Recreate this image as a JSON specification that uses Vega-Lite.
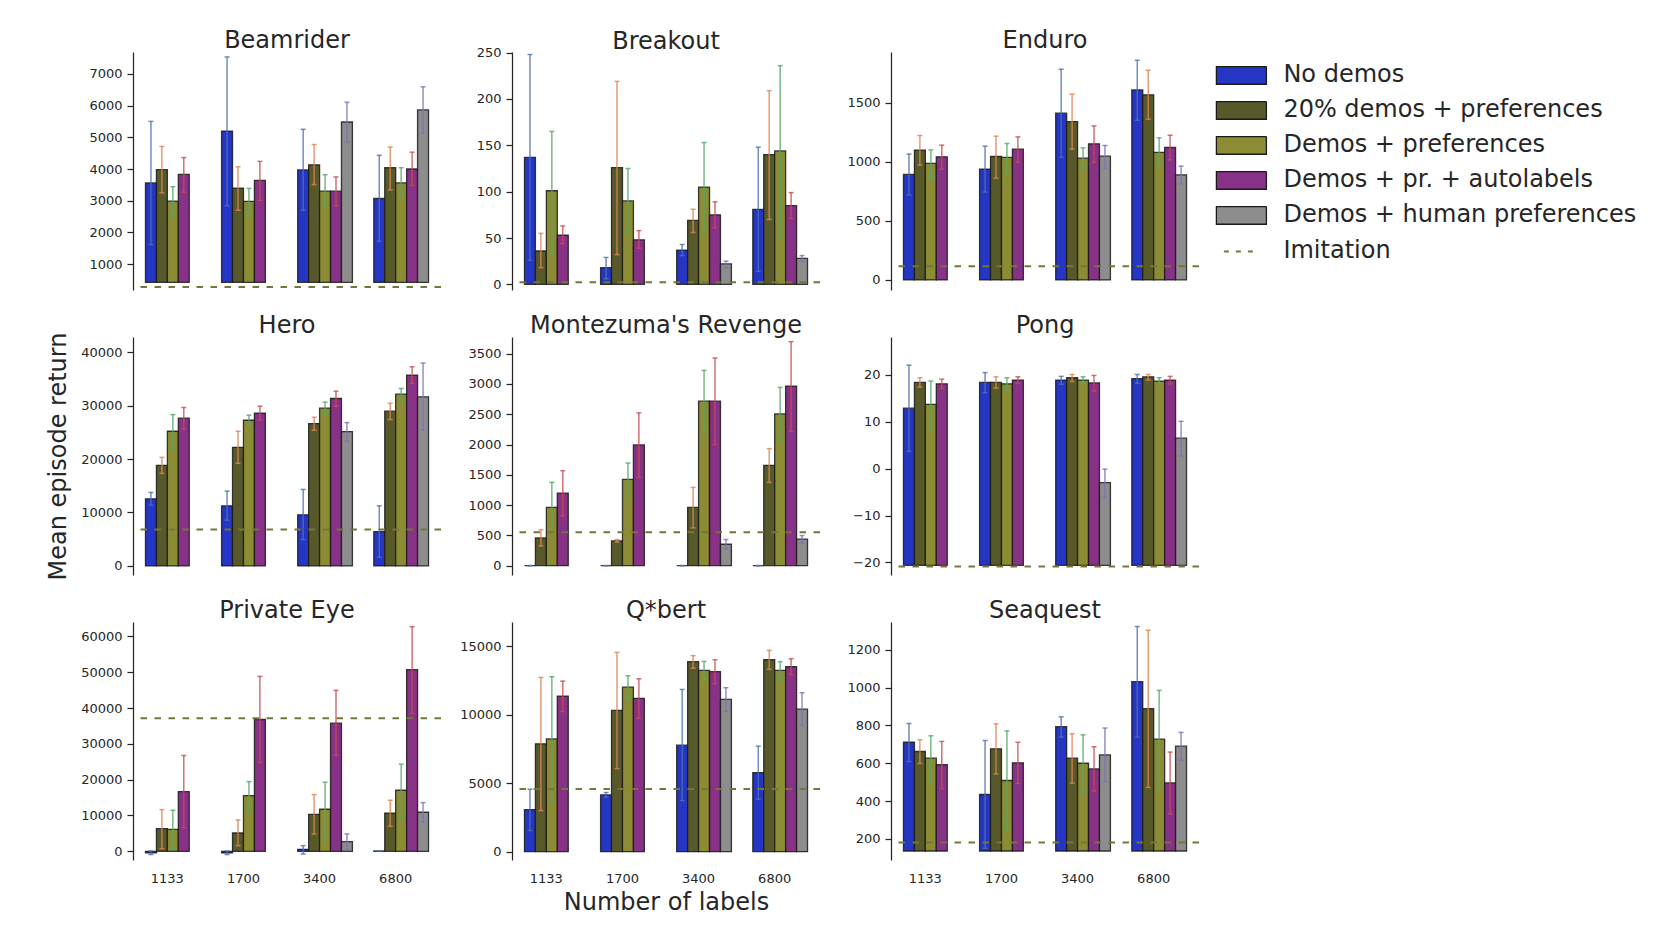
{
  "$schema": "https://vega.github.io/schema/vega-lite/v6.json",
  "padding": {"left": 46, "top": 29, "right": 5, "bottom": 5},
  "config": {
    "font": "DejaVu Sans",
    "view": {"stroke": null},
    "title": {"font": "DejaVu Sans", "fontSize": 24, "fontWeight": "normal", "color": "#262626", "baseline": "bottom", "offset": -1, "anchor": "middle", "frame": "group"},
    "axis": {"labelFont": "DejaVu Sans", "labelFontSize": 13, "labelColor": "#262626", "domainColor": "#262626", "domainWidth": 1.25, "tickColor": "#262626", "tickWidth": 1.25, "tickSize": 6, "labelPadding": 5, "grid": false, "titleFont": "DejaVu Sans", "titleFontSize": 24, "titleFontWeight": "normal", "titleColor": "#262626", "labelFlush": false, "labelOverlap": false}
  },
  "datasets": {
    "scores": [
      {"game": "Beamrider", "labels": "1133", "method": "No demos", "value": 3560, "low": 1620, "high": 5500},
      {"game": "Beamrider", "labels": "1133", "method": "20% demos + preferences", "value": 3980, "low": 3250, "high": 4710},
      {"game": "Beamrider", "labels": "1133", "method": "Demos + preferences", "value": 2990, "low": 2570, "high": 3440},
      {"game": "Beamrider", "labels": "1133", "method": "Demos + pr. + autolabels", "value": 3830, "low": 3270, "high": 4360},
      {"game": "Beamrider", "labels": "1700", "method": "No demos", "value": 5190, "low": 2840, "high": 7530},
      {"game": "Beamrider", "labels": "1700", "method": "20% demos + preferences", "value": 3400, "low": 2700, "high": 4070},
      {"game": "Beamrider", "labels": "1700", "method": "Demos + preferences", "value": 2980, "low": 2560, "high": 3390},
      {"game": "Beamrider", "labels": "1700", "method": "Demos + pr. + autolabels", "value": 3640, "low": 3010, "high": 4240},
      {"game": "Beamrider", "labels": "3400", "method": "No demos", "value": 3970, "low": 2700, "high": 5250},
      {"game": "Beamrider", "labels": "3400", "method": "20% demos + preferences", "value": 4130, "low": 3510, "high": 4770},
      {"game": "Beamrider", "labels": "3400", "method": "Demos + preferences", "value": 3300, "low": 2800, "high": 3820},
      {"game": "Beamrider", "labels": "3400", "method": "Demos + pr. + autolabels", "value": 3300, "low": 2840, "high": 3750},
      {"game": "Beamrider", "labels": "3400", "method": "Demos + human preferences", "value": 5480, "low": 4850, "high": 6100},
      {"game": "Beamrider", "labels": "6800", "method": "No demos", "value": 3070, "low": 1720, "high": 4430},
      {"game": "Beamrider", "labels": "6800", "method": "20% demos + preferences", "value": 4040, "low": 3340, "high": 4690},
      {"game": "Beamrider", "labels": "6800", "method": "Demos + preferences", "value": 3560, "low": 3120, "high": 4040},
      {"game": "Beamrider", "labels": "6800", "method": "Demos + pr. + autolabels", "value": 4000, "low": 3480, "high": 4530},
      {"game": "Beamrider", "labels": "6800", "method": "Demos + human preferences", "value": 5860, "low": 5130, "high": 6590},

      {"game": "Breakout", "labels": "1133", "method": "No demos", "value": 137, "low": 26, "high": 248},
      {"game": "Breakout", "labels": "1133", "method": "20% demos + preferences", "value": 36, "low": 18, "high": 55},
      {"game": "Breakout", "labels": "1133", "method": "Demos + preferences", "value": 101, "low": 35, "high": 165},
      {"game": "Breakout", "labels": "1133", "method": "Demos + pr. + autolabels", "value": 53, "low": 44, "high": 63},
      {"game": "Breakout", "labels": "1700", "method": "No demos", "value": 18, "low": 6, "high": 29},
      {"game": "Breakout", "labels": "1700", "method": "20% demos + preferences", "value": 126, "low": 32, "high": 219},
      {"game": "Breakout", "labels": "1700", "method": "Demos + preferences", "value": 90, "low": 56, "high": 125},
      {"game": "Breakout", "labels": "1700", "method": "Demos + pr. + autolabels", "value": 48, "low": 39, "high": 58},
      {"game": "Breakout", "labels": "3400", "method": "No demos", "value": 37, "low": 31, "high": 43},
      {"game": "Breakout", "labels": "3400", "method": "20% demos + preferences", "value": 69, "low": 56, "high": 81},
      {"game": "Breakout", "labels": "3400", "method": "Demos + preferences", "value": 105, "low": 57, "high": 153},
      {"game": "Breakout", "labels": "3400", "method": "Demos + pr. + autolabels", "value": 75, "low": 61, "high": 89},
      {"game": "Breakout", "labels": "3400", "method": "Demos + human preferences", "value": 22, "low": 18, "high": 25},
      {"game": "Breakout", "labels": "6800", "method": "No demos", "value": 81, "low": 14, "high": 148},
      {"game": "Breakout", "labels": "6800", "method": "20% demos + preferences", "value": 140, "low": 70, "high": 209},
      {"game": "Breakout", "labels": "6800", "method": "Demos + preferences", "value": 144, "low": 52, "high": 236},
      {"game": "Breakout", "labels": "6800", "method": "Demos + pr. + autolabels", "value": 85, "low": 71, "high": 99},
      {"game": "Breakout", "labels": "6800", "method": "Demos + human preferences", "value": 28, "low": 25, "high": 31},

      {"game": "Enduro", "labels": "1133", "method": "No demos", "value": 894, "low": 719, "high": 1066},
      {"game": "Enduro", "labels": "1133", "method": "20% demos + preferences", "value": 1100, "low": 973, "high": 1224},
      {"game": "Enduro", "labels": "1133", "method": "Demos + preferences", "value": 987, "low": 860, "high": 1102},
      {"game": "Enduro", "labels": "1133", "method": "Demos + pr. + autolabels", "value": 1043, "low": 939, "high": 1142},
      {"game": "Enduro", "labels": "1700", "method": "No demos", "value": 939, "low": 744, "high": 1133},
      {"game": "Enduro", "labels": "1700", "method": "20% demos + preferences", "value": 1046, "low": 863, "high": 1218},
      {"game": "Enduro", "labels": "1700", "method": "Demos + preferences", "value": 1038, "low": 911, "high": 1156},
      {"game": "Enduro", "labels": "1700", "method": "Demos + pr. + autolabels", "value": 1108, "low": 998, "high": 1212},
      {"game": "Enduro", "labels": "3400", "method": "No demos", "value": 1413, "low": 1040, "high": 1785},
      {"game": "Enduro", "labels": "3400", "method": "20% demos + preferences", "value": 1342, "low": 1108, "high": 1573},
      {"game": "Enduro", "labels": "3400", "method": "Demos + preferences", "value": 1032, "low": 945, "high": 1119},
      {"game": "Enduro", "labels": "3400", "method": "Demos + pr. + autolabels", "value": 1153, "low": 998, "high": 1305},
      {"game": "Enduro", "labels": "3400", "method": "Demos + human preferences", "value": 1049, "low": 947, "high": 1139},
      {"game": "Enduro", "labels": "6800", "method": "No demos", "value": 1610, "low": 1353, "high": 1861},
      {"game": "Enduro", "labels": "6800", "method": "20% demos + preferences", "value": 1568, "low": 1362, "high": 1776},
      {"game": "Enduro", "labels": "6800", "method": "Demos + preferences", "value": 1080, "low": 956, "high": 1204},
      {"game": "Enduro", "labels": "6800", "method": "Demos + pr. + autolabels", "value": 1122, "low": 1018, "high": 1226},
      {"game": "Enduro", "labels": "6800", "method": "Demos + human preferences", "value": 891, "low": 815, "high": 964},

      {"game": "Hero", "labels": "1133", "method": "No demos", "value": 12560, "low": 11380, "high": 13750},
      {"game": "Hero", "labels": "1133", "method": "20% demos + preferences", "value": 18810, "low": 17310, "high": 20310},
      {"game": "Hero", "labels": "1133", "method": "Demos + preferences", "value": 25190, "low": 22060, "high": 28310},
      {"game": "Hero", "labels": "1133", "method": "Demos + pr. + autolabels", "value": 27630, "low": 25560, "high": 29630},
      {"game": "Hero", "labels": "1700", "method": "No demos", "value": 11250, "low": 8560, "high": 14000},
      {"game": "Hero", "labels": "1700", "method": "20% demos + preferences", "value": 22190, "low": 19190, "high": 25190},
      {"game": "Hero", "labels": "1700", "method": "Demos + preferences", "value": 27250, "low": 26310, "high": 28190},
      {"game": "Hero", "labels": "1700", "method": "Demos + pr. + autolabels", "value": 28560, "low": 27250, "high": 29880},
      {"game": "Hero", "labels": "3400", "method": "No demos", "value": 9560, "low": 4940, "high": 14310},
      {"game": "Hero", "labels": "3400", "method": "20% demos + preferences", "value": 26630, "low": 25380, "high": 27810},
      {"game": "Hero", "labels": "3400", "method": "Demos + preferences", "value": 29500, "low": 28310, "high": 30630},
      {"game": "Hero", "labels": "3400", "method": "Demos + pr. + autolabels", "value": 31310, "low": 29880, "high": 32690},
      {"game": "Hero", "labels": "3400", "method": "Demos + human preferences", "value": 25130, "low": 23310, "high": 26810},
      {"game": "Hero", "labels": "6800", "method": "No demos", "value": 6440, "low": 1630, "high": 11250},
      {"game": "Hero", "labels": "6800", "method": "20% demos + preferences", "value": 28940, "low": 27380, "high": 30440},
      {"game": "Hero", "labels": "6800", "method": "Demos + preferences", "value": 32130, "low": 31060, "high": 33190},
      {"game": "Hero", "labels": "6800", "method": "Demos + pr. + autolabels", "value": 35690, "low": 34130, "high": 37250},
      {"game": "Hero", "labels": "6800", "method": "Demos + human preferences", "value": 31630, "low": 25380, "high": 37940},

      {"game": "Montezuma's Revenge", "labels": "1133", "method": "No demos", "value": 0, "low": 0, "high": 0},
      {"game": "Montezuma's Revenge", "labels": "1133", "method": "20% demos + preferences", "value": 458, "low": 326, "high": 591},
      {"game": "Montezuma's Revenge", "labels": "1133", "method": "Demos + preferences", "value": 961, "low": 547, "high": 1375},
      {"game": "Montezuma's Revenge", "labels": "1133", "method": "Demos + pr. + autolabels", "value": 1198, "low": 823, "high": 1568},
      {"game": "Montezuma's Revenge", "labels": "1700", "method": "No demos", "value": 0, "low": 0, "high": 0},
      {"game": "Montezuma's Revenge", "labels": "1700", "method": "20% demos + preferences", "value": 410, "low": 390, "high": 430},
      {"game": "Montezuma's Revenge", "labels": "1700", "method": "Demos + preferences", "value": 1424, "low": 1154, "high": 1695},
      {"game": "Montezuma's Revenge", "labels": "1700", "method": "Demos + pr. + autolabels", "value": 1993, "low": 1457, "high": 2523},
      {"game": "Montezuma's Revenge", "labels": "3400", "method": "No demos", "value": 0, "low": 0, "high": 0},
      {"game": "Montezuma's Revenge", "labels": "3400", "method": "20% demos + preferences", "value": 961, "low": 624, "high": 1292},
      {"game": "Montezuma's Revenge", "labels": "3400", "method": "Demos + preferences", "value": 2716, "low": 2208, "high": 3224},
      {"game": "Montezuma's Revenge", "labels": "3400", "method": "Demos + pr. + autolabels", "value": 2716, "low": 1998, "high": 3428},
      {"game": "Montezuma's Revenge", "labels": "3400", "method": "Demos + human preferences", "value": 353, "low": 276, "high": 431},
      {"game": "Montezuma's Revenge", "labels": "6800", "method": "No demos", "value": 0, "low": 0, "high": 0},
      {"game": "Montezuma's Revenge", "labels": "6800", "method": "20% demos + preferences", "value": 1656, "low": 1375, "high": 1932},
      {"game": "Montezuma's Revenge", "labels": "6800", "method": "Demos + preferences", "value": 2506, "low": 2076, "high": 2943},
      {"game": "Montezuma's Revenge", "labels": "6800", "method": "Demos + pr. + autolabels", "value": 2965, "low": 2219, "high": 3699},
      {"game": "Montezuma's Revenge", "labels": "6800", "method": "Demos + human preferences", "value": 436, "low": 370, "high": 497},

      {"game": "Pong", "labels": "1133", "method": "No demos", "value": 12.9, "low": 3.7, "high": 22.1},
      {"game": "Pong", "labels": "1133", "method": "20% demos + preferences", "value": 18.4, "low": 17.4, "high": 19.4},
      {"game": "Pong", "labels": "1133", "method": "Demos + preferences", "value": 13.7, "low": 8.7, "high": 18.7},
      {"game": "Pong", "labels": "1133", "method": "Demos + pr. + autolabels", "value": 18.1, "low": 17.1, "high": 19.1},
      {"game": "Pong", "labels": "1700", "method": "No demos", "value": 18.4, "low": 16.2, "high": 20.5},
      {"game": "Pong", "labels": "1700", "method": "20% demos + preferences", "value": 18.4, "low": 17.2, "high": 19.6},
      {"game": "Pong", "labels": "1700", "method": "Demos + preferences", "value": 18.1, "low": 16.7, "high": 19.4},
      {"game": "Pong", "labels": "1700", "method": "Demos + pr. + autolabels", "value": 18.9, "low": 18.2, "high": 19.6},
      {"game": "Pong", "labels": "3400", "method": "No demos", "value": 18.9, "low": 18.0, "high": 19.7},
      {"game": "Pong", "labels": "3400", "method": "20% demos + preferences", "value": 19.4, "low": 18.6, "high": 20.1},
      {"game": "Pong", "labels": "3400", "method": "Demos + preferences", "value": 18.9, "low": 18.3, "high": 19.6},
      {"game": "Pong", "labels": "3400", "method": "Demos + pr. + autolabels", "value": 18.3, "low": 16.6, "high": 19.9},
      {"game": "Pong", "labels": "3400", "method": "Demos + human preferences", "value": -3.0, "low": -6.2, "high": -0.1},
      {"game": "Pong", "labels": "6800", "method": "No demos", "value": 19.2, "low": 18.2, "high": 20.1},
      {"game": "Pong", "labels": "6800", "method": "20% demos + preferences", "value": 19.6, "low": 18.9, "high": 20.1},
      {"game": "Pong", "labels": "6800", "method": "Demos + preferences", "value": 18.7, "low": 18.2, "high": 19.4},
      {"game": "Pong", "labels": "6800", "method": "Demos + pr. + autolabels", "value": 18.9, "low": 18.1, "high": 19.7},
      {"game": "Pong", "labels": "6800", "method": "Demos + human preferences", "value": 6.5, "low": 2.7, "high": 10.1},

      {"game": "Private Eye", "labels": "1133", "method": "No demos", "value": -400, "low": -900, "high": 100},
      {"game": "Private Eye", "labels": "1133", "method": "20% demos + preferences", "value": 6340, "low": 750, "high": 11650},
      {"game": "Private Eye", "labels": "1133", "method": "Demos + preferences", "value": 6150, "low": 750, "high": 11460},
      {"game": "Private Eye", "labels": "1133", "method": "Demos + pr. + autolabels", "value": 16680, "low": 6620, "high": 26740},
      {"game": "Private Eye", "labels": "1700", "method": "No demos", "value": -400, "low": -900, "high": 100},
      {"game": "Private Eye", "labels": "1700", "method": "20% demos + preferences", "value": 5120, "low": 1580, "high": 8760},
      {"game": "Private Eye", "labels": "1700", "method": "Demos + preferences", "value": 15560, "low": 11370, "high": 19470},
      {"game": "Private Eye", "labels": "1700", "method": "Demos + pr. + autolabels", "value": 36800, "low": 24780, "high": 48820},
      {"game": "Private Eye", "labels": "3400", "method": "No demos", "value": 560, "low": -750, "high": 1580},
      {"game": "Private Eye", "labels": "3400", "method": "20% demos + preferences", "value": 10340, "low": 4850, "high": 15840},
      {"game": "Private Eye", "labels": "3400", "method": "Demos + preferences", "value": 11740, "low": 4190, "high": 19290},
      {"game": "Private Eye", "labels": "3400", "method": "Demos + pr. + autolabels", "value": 35780, "low": 26830, "high": 44910},
      {"game": "Private Eye", "labels": "3400", "method": "Demos + human preferences", "value": 2700, "low": 560, "high": 4850},
      {"game": "Private Eye", "labels": "6800", "method": "No demos", "value": 90, "low": 90, "high": 90},
      {"game": "Private Eye", "labels": "6800", "method": "20% demos + preferences", "value": 10620, "low": 6990, "high": 14260},
      {"game": "Private Eye", "labels": "6800", "method": "Demos + preferences", "value": 17050, "low": 9600, "high": 24320},
      {"game": "Private Eye", "labels": "6800", "method": "Demos + pr. + autolabels", "value": 50690, "low": 38480, "high": 62700},
      {"game": "Private Eye", "labels": "6800", "method": "Demos + human preferences", "value": 10900, "low": 8110, "high": 13600},

      {"game": "Q*bert", "labels": "1133", "method": "No demos", "value": 3070, "low": 1540, "high": 4560},
      {"game": "Q*bert", "labels": "1133", "method": "20% demos + preferences", "value": 7880, "low": 3000, "high": 12730},
      {"game": "Q*bert", "labels": "1133", "method": "Demos + preferences", "value": 8240, "low": 3730, "high": 12780},
      {"game": "Q*bert", "labels": "1133", "method": "Demos + pr. + autolabels", "value": 11370, "low": 10240, "high": 12460},
      {"game": "Q*bert", "labels": "1700", "method": "No demos", "value": 4150, "low": 4000, "high": 4320},
      {"game": "Q*bert", "labels": "1700", "method": "20% demos + preferences", "value": 10320, "low": 6070, "high": 14560},
      {"game": "Q*bert", "labels": "1700", "method": "Demos + preferences", "value": 12020, "low": 11200, "high": 12850},
      {"game": "Q*bert", "labels": "1700", "method": "Demos + pr. + autolabels", "value": 11200, "low": 9730, "high": 12630},
      {"game": "Q*bert", "labels": "3400", "method": "No demos", "value": 7780, "low": 3730, "high": 11850},
      {"game": "Q*bert", "labels": "3400", "method": "20% demos + preferences", "value": 13880, "low": 13410, "high": 14320},
      {"game": "Q*bert", "labels": "3400", "method": "Demos + preferences", "value": 13240, "low": 12560, "high": 13900},
      {"game": "Q*bert", "labels": "3400", "method": "Demos + pr. + autolabels", "value": 13150, "low": 12270, "high": 14020},
      {"game": "Q*bert", "labels": "3400", "method": "Demos + human preferences", "value": 11120, "low": 10240, "high": 11980},
      {"game": "Q*bert", "labels": "6800", "method": "No demos", "value": 5780, "low": 3830, "high": 7710},
      {"game": "Q*bert", "labels": "6800", "method": "20% demos + preferences", "value": 14020, "low": 13320, "high": 14710},
      {"game": "Q*bert", "labels": "6800", "method": "Demos + preferences", "value": 13240, "low": 12630, "high": 13880},
      {"game": "Q*bert", "labels": "6800", "method": "Demos + pr. + autolabels", "value": 13510, "low": 12930, "high": 14100},
      {"game": "Q*bert", "labels": "6800", "method": "Demos + human preferences", "value": 10410, "low": 9220, "high": 11610},

      {"game": "Seaquest", "labels": "1133", "method": "No demos", "value": 711, "low": 609, "high": 810},
      {"game": "Seaquest", "labels": "1133", "method": "20% demos + preferences", "value": 662, "low": 599, "high": 724},
      {"game": "Seaquest", "labels": "1133", "method": "Demos + preferences", "value": 627, "low": 509, "high": 745},
      {"game": "Seaquest", "labels": "1133", "method": "Demos + pr. + autolabels", "value": 592, "low": 466, "high": 715},
      {"game": "Seaquest", "labels": "1700", "method": "No demos", "value": 435, "low": 151, "high": 720},
      {"game": "Seaquest", "labels": "1700", "method": "20% demos + preferences", "value": 676, "low": 544, "high": 808},
      {"game": "Seaquest", "labels": "1700", "method": "Demos + preferences", "value": 509, "low": 244, "high": 771},
      {"game": "Seaquest", "labels": "1700", "method": "Demos + pr. + autolabels", "value": 602, "low": 493, "high": 711},
      {"game": "Seaquest", "labels": "3400", "method": "No demos", "value": 793, "low": 738, "high": 845},
      {"game": "Seaquest", "labels": "3400", "method": "20% demos + preferences", "value": 627, "low": 495, "high": 756},
      {"game": "Seaquest", "labels": "3400", "method": "Demos + preferences", "value": 600, "low": 447, "high": 750},
      {"game": "Seaquest", "labels": "3400", "method": "Demos + pr. + autolabels", "value": 570, "low": 454, "high": 687},
      {"game": "Seaquest", "labels": "3400", "method": "Demos + human preferences", "value": 644, "low": 502, "high": 786},
      {"game": "Seaquest", "labels": "6800", "method": "No demos", "value": 1031, "low": 738, "high": 1322},
      {"game": "Seaquest", "labels": "6800", "method": "20% demos + preferences", "value": 888, "low": 472, "high": 1302},
      {"game": "Seaquest", "labels": "6800", "method": "Demos + preferences", "value": 727, "low": 470, "high": 985},
      {"game": "Seaquest", "labels": "6800", "method": "Demos + pr. + autolabels", "value": 496, "low": 332, "high": 659},
      {"game": "Seaquest", "labels": "6800", "method": "Demos + human preferences", "value": 690, "low": 616, "high": 763}
    ],
    "imitation": [
      {"game": "Beamrider", "value": 283},
      {"game": "Breakout", "value": 2.2},
      {"game": "Enduro", "value": 116},
      {"game": "Hero", "value": 6810},
      {"game": "Montezuma's Revenge", "value": 552},
      {"game": "Pong", "value": -20.86},
      {"game": "Private Eye", "value": 37170},
      {"game": "Q*bert", "value": 4585},
      {"game": "Seaquest", "value": 182}
    ]
  },
  "columns": 3,
  "bounds": "flush",
  "align": "all",
  "spacing": {"row": 47, "column": 71},
  "resolve": {"scale": {"fill": "shared", "color": "shared"}},
  "concat": [
    {
      "title": "Beamrider", "width": 308, "height": 238,
      "layer": [
        {
          "data": {"name": "scores"},
          "transform": [{"filter": {"field": "game", "equal": "Beamrider"}}],
          "encoding": {
            "x": {"field": "labels", "type": "nominal", "scale": {"paddingInner": 0.281, "paddingOuter": 0.164}, "axis": null},
            "xOffset": {"field": "method", "type": "nominal", "scale": {"domain": ["No demos", "20% demos + preferences", "Demos + preferences", "Demos + pr. + autolabels", "Demos + human preferences"], "paddingInner": 0, "paddingOuter": 0}}
          },
          "layer": [
            {"mark": {"type": "bar", "stroke": "#1a1a1a", "strokeWidth": 1.3, "strokeOpacity": 0.85},
             "encoding": {
               "y": {"field": "value", "type": "quantitative", "scale": {"domain": [188, 7686], "nice": false, "zero": false}, "axis": {"values": [1000, 2000, 3000, 4000, 5000, 6000, 7000], "tickCount": 20, "format": "d", "title": null, "labelOverlap": false}},
               "y2": {"datum": 431},
               "fill": {"field": "method", "type": "nominal",
                 "scale": {"domain": ["No demos", "20% demos + preferences", "Demos + preferences", "Demos + pr. + autolabels", "Demos + human preferences", "Imitation"], "range": ["#2535c4", "#58592a", "#8c8c34", "#873187", "#8d8d8d", "transparent"]},
                 "legend": {"title": null, "orient": "right", "offset": 18, "padding": 11.4, "labelFont": "DejaVu Sans", "labelFontSize": 24, "labelColor": "#262626", "labelLimit": 600, "labelOffset": 30, "rowPadding": 11, "symbolSize": 2500, "symbolType": "M-1,-0.354H1V0.354H-1Z", "symbolStrokeColor": "#1a1a1a", "symbolStrokeWidth": 1.3,
                   "encode": {"symbols": {"update": {
                     "shape": {"signal": "datum.value === 'Imitation' ? 'M-1,-0.354M1,0.354M-0.7,0H0.7' : 'M-1,-0.354H1V0.354H-1Z'"},
                     "stroke": {"signal": "datum.value === 'Imitation' ? '#76763a' : '#1a1a1a'"},
                     "strokeWidth": {"signal": "datum.value === 'Imitation' ? 2 : 1.3"},
                     "strokeDash": {"signal": "datum.value === 'Imitation' ? [5, 7] : [1, 0]"}
                   }}}}}
             }},
            {"mark": {"type": "rule", "strokeWidth": 1.5, "opacity": 0.8},
             "encoding": {"y": {"field": "low", "type": "quantitative", "title": null}, "y2": {"field": "high"},
               "color": {"field": "method", "type": "nominal", "scale": {"domain": ["No demos", "20% demos + preferences", "Demos + preferences", "Demos + pr. + autolabels", "Demos + human preferences"], "range": ["#4c72b0", "#dd8452", "#55a868", "#c44e52", "#8172b3"]}, "legend": null}}},
            {"mark": {"type": "tick", "orient": "horizontal", "size": 5, "thickness": 1.5, "opacity": 0.8},
             "encoding": {"y": {"field": "low", "type": "quantitative", "title": null}, "color": {"field": "method", "type": "nominal", "legend": null}}},
            {"mark": {"type": "tick", "orient": "horizontal", "size": 5, "thickness": 1.5, "opacity": 0.8},
             "encoding": {"y": {"field": "high", "type": "quantitative", "title": null}, "color": {"field": "method", "type": "nominal", "legend": null}}}
          ]
        },
        {
          "data": {"name": "imitation"},
          "transform": [{"filter": {"field": "game", "equal": "Beamrider"}}],
          "mark": {"type": "rule", "stroke": "#76763a", "strokeWidth": 2, "strokeDash": [6.5, 7.5]},
          "encoding": {"y": {"field": "value", "type": "quantitative", "title": null}}
        }
      ]
    },
    {
      "title": {"text": "Breakout", "offset": -7}, "width": 308, "height": 238,
      "layer": [
        {
          "data": {"name": "scores"},
          "transform": [{"filter": {"field": "game", "equal": "Breakout"}}],
          "encoding": {
            "x": {"field": "labels", "type": "nominal", "scale": {"paddingInner": 0.281, "paddingOuter": 0.164}, "axis": null},
            "xOffset": {"field": "method", "type": "nominal", "scale": {"domain": ["No demos", "20% demos + preferences", "Demos + preferences", "Demos + pr. + autolabels", "Demos + human preferences"], "paddingInner": 0, "paddingOuter": 0}}
          },
          "layer": [
            {"mark": {"type": "bar", "stroke": "#1a1a1a", "strokeWidth": 1.3, "strokeOpacity": 0.85},
             "encoding": {
               "y": {"field": "value", "type": "quantitative", "scale": {"domain": [-6.1, 250.7], "nice": false, "zero": false}, "axis": {"values": [0, 50, 100, 150, 200, 250], "tickCount": 20, "format": "d", "title": null, "labelOverlap": false}},
               "y2": {"datum": 0},
               "fill": {"field": "method", "type": "nominal"}
             }},
            {"mark": {"type": "rule", "strokeWidth": 1.5, "opacity": 0.8},
             "encoding": {"y": {"field": "low", "type": "quantitative", "title": null}, "y2": {"field": "high"}, "color": {"field": "method", "type": "nominal", "legend": null}}},
            {"mark": {"type": "tick", "orient": "horizontal", "size": 5, "thickness": 1.5, "opacity": 0.8},
             "encoding": {"y": {"field": "low", "type": "quantitative", "title": null}, "color": {"field": "method", "type": "nominal", "legend": null}}},
            {"mark": {"type": "tick", "orient": "horizontal", "size": 5, "thickness": 1.5, "opacity": 0.8},
             "encoding": {"y": {"field": "high", "type": "quantitative", "title": null}, "color": {"field": "method", "type": "nominal", "legend": null}}}
          ]
        },
        {
          "data": {"name": "imitation"},
          "transform": [{"filter": {"field": "game", "equal": "Breakout"}}],
          "mark": {"type": "rule", "stroke": "#76763a", "strokeWidth": 2, "strokeDash": [6.5, 7.5]},
          "encoding": {"y": {"field": "value", "type": "quantitative", "title": null}}
        }
      ]
    },
    {
      "title": "Enduro", "width": 308, "height": 238,
      "layer": [
        {
          "data": {"name": "scores"},
          "transform": [{"filter": {"field": "game", "equal": "Enduro"}}],
          "encoding": {
            "x": {"field": "labels", "type": "nominal", "scale": {"paddingInner": 0.281, "paddingOuter": 0.164}, "axis": null},
            "xOffset": {"field": "method", "type": "nominal", "scale": {"domain": ["No demos", "20% demos + preferences", "Demos + preferences", "Demos + pr. + autolabels", "Demos + human preferences"], "paddingInner": 0, "paddingOuter": 0}}
          },
          "layer": [
            {"mark": {"type": "bar", "stroke": "#1a1a1a", "strokeWidth": 1.3, "strokeOpacity": 0.85},
             "encoding": {
               "y": {"field": "value", "type": "quantitative", "scale": {"domain": [-85, 1931], "nice": false, "zero": false}, "axis": {"values": [0, 500, 1000, 1500], "tickCount": 20, "format": "d", "title": null, "labelOverlap": false}},
               "y2": {"datum": 0},
               "fill": {"field": "method", "type": "nominal"}
             }},
            {"mark": {"type": "rule", "strokeWidth": 1.5, "opacity": 0.8},
             "encoding": {"y": {"field": "low", "type": "quantitative", "title": null}, "y2": {"field": "high"}, "color": {"field": "method", "type": "nominal", "legend": null}}},
            {"mark": {"type": "tick", "orient": "horizontal", "size": 5, "thickness": 1.5, "opacity": 0.8},
             "encoding": {"y": {"field": "low", "type": "quantitative", "title": null}, "color": {"field": "method", "type": "nominal", "legend": null}}},
            {"mark": {"type": "tick", "orient": "horizontal", "size": 5, "thickness": 1.5, "opacity": 0.8},
             "encoding": {"y": {"field": "high", "type": "quantitative", "title": null}, "color": {"field": "method", "type": "nominal", "legend": null}}}
          ]
        },
        {
          "data": {"name": "imitation"},
          "transform": [{"filter": {"field": "game", "equal": "Enduro"}}],
          "mark": {"type": "rule", "stroke": "#76763a", "strokeWidth": 2, "strokeDash": [6.5, 7.5]},
          "encoding": {"y": {"field": "value", "type": "quantitative", "title": null}}
        }
      ]
    },
    {
      "title": {"text": "Hero", "offset": -6.3}, "width": 308, "height": 238,
      "layer": [
        {
          "data": {"name": "scores"},
          "transform": [{"filter": {"field": "game", "equal": "Hero"}}],
          "encoding": {
            "x": {"field": "labels", "type": "nominal", "scale": {"paddingInner": 0.281, "paddingOuter": 0.164}, "axis": null},
            "xOffset": {"field": "method", "type": "nominal", "scale": {"domain": ["No demos", "20% demos + preferences", "Demos + preferences", "Demos + pr. + autolabels", "Demos + human preferences"], "paddingInner": 0, "paddingOuter": 0}}
          },
          "layer": [
            {"mark": {"type": "bar", "stroke": "#1a1a1a", "strokeWidth": 1.3, "strokeOpacity": 0.85},
             "encoding": {
               "y": {"field": "value", "type": "quantitative", "title": "Mean episode return", "scale": {"domain": [-1688, 42813], "nice": false, "zero": false}, "axis": {"values": [0, 10000, 20000, 30000, 40000], "tickCount": 20, "format": "d", "title": "Mean episode return", "titlePadding": 10, "labelOverlap": false}},
               "y2": {"datum": 0},
               "fill": {"field": "method", "type": "nominal"}
             }},
            {"mark": {"type": "rule", "strokeWidth": 1.5, "opacity": 0.8},
             "encoding": {"y": {"field": "low", "type": "quantitative", "title": "Mean episode return"}, "y2": {"field": "high"}, "color": {"field": "method", "type": "nominal", "legend": null}}},
            {"mark": {"type": "tick", "orient": "horizontal", "size": 5, "thickness": 1.5, "opacity": 0.8},
             "encoding": {"y": {"field": "low", "type": "quantitative", "title": "Mean episode return"}, "color": {"field": "method", "type": "nominal", "legend": null}}},
            {"mark": {"type": "tick", "orient": "horizontal", "size": 5, "thickness": 1.5, "opacity": 0.8},
             "encoding": {"y": {"field": "high", "type": "quantitative", "title": "Mean episode return"}, "color": {"field": "method", "type": "nominal", "legend": null}}}
          ]
        },
        {
          "data": {"name": "imitation"},
          "transform": [{"filter": {"field": "game", "equal": "Hero"}}],
          "mark": {"type": "rule", "stroke": "#76763a", "strokeWidth": 2, "strokeDash": [6.5, 7.5]},
          "encoding": {"y": {"field": "value", "type": "quantitative", "title": "Mean episode return"}}
        }
      ]
    },
    {
      "title": "Montezuma's Revenge", "width": 308, "height": 238,
      "layer": [
        {
          "data": {"name": "scores"},
          "transform": [{"filter": {"field": "game", "equal": "Montezuma's Revenge"}}],
          "encoding": {
            "x": {"field": "labels", "type": "nominal", "scale": {"paddingInner": 0.281, "paddingOuter": 0.164}, "axis": null},
            "xOffset": {"field": "method", "type": "nominal", "scale": {"domain": ["No demos", "20% demos + preferences", "Demos + preferences", "Demos + pr. + autolabels", "Demos + human preferences"], "paddingInner": 0, "paddingOuter": 0}}
          },
          "layer": [
            {"mark": {"type": "bar", "stroke": "#1a1a1a", "strokeWidth": 1.3, "strokeOpacity": 0.85},
             "encoding": {
               "y": {"field": "value", "type": "quantitative", "scale": {"domain": [-155, 3776], "nice": false, "zero": false}, "axis": {"values": [0, 500, 1000, 1500, 2000, 2500, 3000, 3500], "tickCount": 20, "format": "d", "title": null, "labelOverlap": false}},
               "y2": {"datum": 0},
               "fill": {"field": "method", "type": "nominal"}
             }},
            {"mark": {"type": "rule", "strokeWidth": 1.5, "opacity": 0.8},
             "encoding": {"y": {"field": "low", "type": "quantitative", "title": null}, "y2": {"field": "high"}, "color": {"field": "method", "type": "nominal", "legend": null}}},
            {"mark": {"type": "tick", "orient": "horizontal", "size": 5, "thickness": 1.5, "opacity": 0.8},
             "encoding": {"y": {"field": "low", "type": "quantitative", "title": null}, "color": {"field": "method", "type": "nominal", "legend": null}}},
            {"mark": {"type": "tick", "orient": "horizontal", "size": 5, "thickness": 1.5, "opacity": 0.8},
             "encoding": {"y": {"field": "high", "type": "quantitative", "title": null}, "color": {"field": "method", "type": "nominal", "legend": null}}}
          ]
        },
        {
          "data": {"name": "imitation"},
          "transform": [{"filter": {"field": "game", "equal": "Montezuma's Revenge"}}],
          "mark": {"type": "rule", "stroke": "#76763a", "strokeWidth": 2, "strokeDash": [6.5, 7.5]},
          "encoding": {"y": {"field": "value", "type": "quantitative", "title": null}}
        }
      ]
    },
    {
      "title": "Pong", "width": 308, "height": 238,
      "layer": [
        {
          "data": {"name": "scores"},
          "transform": [{"filter": {"field": "game", "equal": "Pong"}}],
          "encoding": {
            "x": {"field": "labels", "type": "nominal", "scale": {"paddingInner": 0.281, "paddingOuter": 0.164}, "axis": null},
            "xOffset": {"field": "method", "type": "nominal", "scale": {"domain": ["No demos", "20% demos + preferences", "Demos + preferences", "Demos + pr. + autolabels", "Demos + human preferences"], "paddingInner": 0, "paddingOuter": 0}}
          },
          "layer": [
            {"mark": {"type": "bar", "stroke": "#1a1a1a", "strokeWidth": 1.3, "strokeOpacity": 0.85},
             "encoding": {
               "y": {"field": "value", "type": "quantitative", "scale": {"domain": [-22.7, 28.1], "nice": false, "zero": false}, "axis": {"values": [-20, -10, 0, 10, 20], "tickCount": 20, "format": "d", "title": null, "labelOverlap": false}},
               "y2": {"datum": -20.64},
               "fill": {"field": "method", "type": "nominal"}
             }},
            {"mark": {"type": "rule", "strokeWidth": 1.5, "opacity": 0.8},
             "encoding": {"y": {"field": "low", "type": "quantitative", "title": null}, "y2": {"field": "high"}, "color": {"field": "method", "type": "nominal", "legend": null}}},
            {"mark": {"type": "tick", "orient": "horizontal", "size": 5, "thickness": 1.5, "opacity": 0.8},
             "encoding": {"y": {"field": "low", "type": "quantitative", "title": null}, "color": {"field": "method", "type": "nominal", "legend": null}}},
            {"mark": {"type": "tick", "orient": "horizontal", "size": 5, "thickness": 1.5, "opacity": 0.8},
             "encoding": {"y": {"field": "high", "type": "quantitative", "title": null}, "color": {"field": "method", "type": "nominal", "legend": null}}}
          ]
        },
        {
          "data": {"name": "imitation"},
          "transform": [{"filter": {"field": "game", "equal": "Pong"}}],
          "mark": {"type": "rule", "stroke": "#76763a", "strokeWidth": 2, "strokeDash": [6.5, 7.5]},
          "encoding": {"y": {"field": "value", "type": "quantitative", "title": null}}
        }
      ]
    },
    {
      "title": "Private Eye", "width": 308, "height": 238,
      "layer": [
        {
          "data": {"name": "scores"},
          "transform": [{"filter": {"field": "game", "equal": "Private Eye"}}],
          "encoding": {
            "x": {"field": "labels", "type": "nominal", "scale": {"paddingInner": 0.281, "paddingOuter": 0.164}, "axis": {"title": null, "labelAngle": 0, "ticks": false, "domain": false, "labelPadding": 12.5, "labelOffset": -5.5}},
            "xOffset": {"field": "method", "type": "nominal", "scale": {"domain": ["No demos", "20% demos + preferences", "Demos + preferences", "Demos + pr. + autolabels", "Demos + human preferences"], "paddingInner": 0, "paddingOuter": 0}}
          },
          "layer": [
            {"mark": {"type": "bar", "stroke": "#1a1a1a", "strokeWidth": 1.3, "strokeOpacity": 0.85},
             "encoding": {
               "y": {"field": "value", "type": "quantitative", "scale": {"domain": [-2422, 64008], "nice": false, "zero": false}, "axis": {"values": [0, 10000, 20000, 30000, 40000, 50000, 60000], "tickCount": 20, "format": "d", "title": null, "labelOverlap": false}},
               "y2": {"datum": 0},
               "fill": {"field": "method", "type": "nominal"}
             }},
            {"mark": {"type": "rule", "strokeWidth": 1.5, "opacity": 0.8},
             "encoding": {"y": {"field": "low", "type": "quantitative", "title": null}, "y2": {"field": "high"}, "color": {"field": "method", "type": "nominal", "legend": null}}},
            {"mark": {"type": "tick", "orient": "horizontal", "size": 5, "thickness": 1.5, "opacity": 0.8},
             "encoding": {"y": {"field": "low", "type": "quantitative", "title": null}, "color": {"field": "method", "type": "nominal", "legend": null}}},
            {"mark": {"type": "tick", "orient": "horizontal", "size": 5, "thickness": 1.5, "opacity": 0.8},
             "encoding": {"y": {"field": "high", "type": "quantitative", "title": null}, "color": {"field": "method", "type": "nominal", "legend": null}}}
          ]
        },
        {
          "data": {"name": "imitation"},
          "transform": [{"filter": {"field": "game", "equal": "Private Eye"}}],
          "mark": {"type": "rule", "stroke": "#76763a", "strokeWidth": 2, "strokeDash": [6.5, 7.5]},
          "encoding": {"y": {"field": "value", "type": "quantitative", "title": null}}
        }
      ]
    },
    {
      "title": "Q*bert", "width": 308, "height": 238,
      "layer": [
        {
          "data": {"name": "scores"},
          "transform": [{"filter": {"field": "game", "equal": "Q*bert"}}],
          "encoding": {
            "x": {"field": "labels", "type": "nominal", "scale": {"paddingInner": 0.281, "paddingOuter": 0.164}, "axis": {"title": "Number of labels", "titlePadding": 5, "labelAngle": 0, "ticks": false, "domain": false, "labelPadding": 12.5, "labelOffset": -5.5}},
            "xOffset": {"field": "method", "type": "nominal", "scale": {"domain": ["No demos", "20% demos + preferences", "Demos + preferences", "Demos + pr. + autolabels", "Demos + human preferences"], "paddingInner": 0, "paddingOuter": 0}}
          },
          "layer": [
            {"mark": {"type": "bar", "stroke": "#1a1a1a", "strokeWidth": 1.3, "strokeOpacity": 0.85},
             "encoding": {
               "y": {"field": "value", "type": "quantitative", "scale": {"domain": [-610, 16780], "nice": false, "zero": false}, "axis": {"values": [0, 5000, 10000, 15000], "tickCount": 20, "format": "d", "title": null, "labelOverlap": false}},
               "y2": {"datum": 0},
               "fill": {"field": "method", "type": "nominal"}
             }},
            {"mark": {"type": "rule", "strokeWidth": 1.5, "opacity": 0.8},
             "encoding": {"y": {"field": "low", "type": "quantitative", "title": null}, "y2": {"field": "high"}, "color": {"field": "method", "type": "nominal", "legend": null}}},
            {"mark": {"type": "tick", "orient": "horizontal", "size": 5, "thickness": 1.5, "opacity": 0.8},
             "encoding": {"y": {"field": "low", "type": "quantitative", "title": null}, "color": {"field": "method", "type": "nominal", "legend": null}}},
            {"mark": {"type": "tick", "orient": "horizontal", "size": 5, "thickness": 1.5, "opacity": 0.8},
             "encoding": {"y": {"field": "high", "type": "quantitative", "title": null}, "color": {"field": "method", "type": "nominal", "legend": null}}}
          ]
        },
        {
          "data": {"name": "imitation"},
          "transform": [{"filter": {"field": "game", "equal": "Q*bert"}}],
          "mark": {"type": "rule", "stroke": "#76763a", "strokeWidth": 2, "strokeDash": [6.5, 7.5]},
          "encoding": {"y": {"field": "value", "type": "quantitative", "title": null}}
        }
      ]
    },
    {
      "title": "Seaquest", "width": 308, "height": 238,
      "layer": [
        {
          "data": {"name": "scores"},
          "transform": [{"filter": {"field": "game", "equal": "Seaquest"}}],
          "encoding": {
            "x": {"field": "labels", "type": "nominal", "scale": {"paddingInner": 0.281, "paddingOuter": 0.164}, "axis": {"title": null, "labelAngle": 0, "ticks": false, "domain": false, "labelPadding": 12.5, "labelOffset": -5.5}},
            "xOffset": {"field": "method", "type": "nominal", "scale": {"domain": ["No demos", "20% demos + preferences", "Demos + preferences", "Demos + pr. + autolabels", "Demos + human preferences"], "paddingInner": 0, "paddingOuter": 0}}
          },
          "layer": [
            {"mark": {"type": "bar", "stroke": "#1a1a1a", "strokeWidth": 1.3, "strokeOpacity": 0.85},
             "encoding": {
               "y": {"field": "value", "type": "quantitative", "scale": {"domain": [89, 1346], "nice": false, "zero": false}, "axis": {"values": [200, 400, 600, 800, 1000, 1200], "tickCount": 20, "format": "d", "title": null, "labelOverlap": false}},
               "y2": {"datum": 136.5},
               "fill": {"field": "method", "type": "nominal"}
             }},
            {"mark": {"type": "rule", "strokeWidth": 1.5, "opacity": 0.8},
             "encoding": {"y": {"field": "low", "type": "quantitative", "title": null}, "y2": {"field": "high"}, "color": {"field": "method", "type": "nominal", "legend": null}}},
            {"mark": {"type": "tick", "orient": "horizontal", "size": 5, "thickness": 1.5, "opacity": 0.8},
             "encoding": {"y": {"field": "low", "type": "quantitative", "title": null}, "color": {"field": "method", "type": "nominal", "legend": null}}},
            {"mark": {"type": "tick", "orient": "horizontal", "size": 5, "thickness": 1.5, "opacity": 0.8},
             "encoding": {"y": {"field": "high", "type": "quantitative", "title": null}, "color": {"field": "method", "type": "nominal", "legend": null}}}
          ]
        },
        {
          "data": {"name": "imitation"},
          "transform": [{"filter": {"field": "game", "equal": "Seaquest"}}],
          "mark": {"type": "rule", "stroke": "#76763a", "strokeWidth": 2, "strokeDash": [6.5, 7.5]},
          "encoding": {"y": {"field": "value", "type": "quantitative", "title": null}}
        }
      ]
    }
  ]
}
